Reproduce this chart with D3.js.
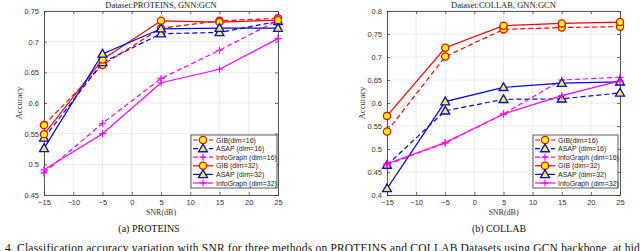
<!DOCTYPE html>
<html>
<head>
<meta charset="utf-8">
<script src="https://cdn.jsdelivr.net/npm/d3@7"></script>
<style>
  body { margin: 0; background: #fff; }
  svg { display: block; }
</style>
</head>
<body>
<div id="chart"></div>
<script>
// DATA

var snr = [-15, -5, 5, 15, 25];
var xTicks = [-15, -10, -5, 0, 5, 10, 15, 20, 25];

var seriesNames = ["GIB(dim=16)", "ASAP (dim=16)", "InfoGraph (dim=16)",
                   "GIB (dim=32)", "ASAP (dim=32)", "InfoGraph (dim=32)"];

// PROTEINS
var proteinsGib16 = [0.564, 0.662, 0.722, 0.734, 0.738];
var proteinsAsap16 = [0.543, 0.666, 0.713, 0.715, 0.733];
var proteinsInfo16 = [0.486, 0.567, 0.640, 0.686, 0.735];
var proteinsGib32 = [0.549, 0.671, 0.734, 0.732, 0.735];
var proteinsAsap32 = [0.526, 0.680, 0.721, 0.722, 0.722];
var proteinsInfo32 = [0.491, 0.550, 0.633, 0.655, 0.705];
var proteinsYTicks = [0.45, 0.5, 0.55, 0.6, 0.65, 0.7, 0.75];

// COLLAB
var collabGib16 = [0.538, 0.701, 0.760, 0.764, 0.766];
var collabAsap16 = [0.465, 0.583, 0.608, 0.609, 0.622];
var collabInfo16 = [0.466, 0.513, 0.576, 0.650, 0.656];
var collabGib32 = [0.572, 0.720, 0.768, 0.773, 0.776];
var collabAsap32 = [0.414, 0.603, 0.634, 0.643, 0.646];
var collabInfo32 = [0.468, 0.514, 0.576, 0.616, 0.648];
var collabYTicks = [0.4, 0.45, 0.5, 0.55, 0.6, 0.65, 0.7, 0.75, 0.8];

// STYLE per series (same order as the names)
var styles = [
  { color: "#ff0000", dash: "5,3", marker: "circle" },
  { color: "#0000ff", dash: "5,3", marker: "triangle" },
  { color: "#ff00ff", dash: "5,3", marker: "plus" },
  { color: "#ff0000", dash: null, marker: "circle" },
  { color: "#0000ff", dash: null, marker: "triangle" },
  { color: "#ff00ff", dash: null, marker: "plus" }
];

var width = 640;
var height = 251;

var svg = d3.select("#chart")
    .append("svg")
    .attr("width", width)
    .attr("height", height);

var serif = "'Liberation Serif', 'DejaVu Serif', serif";
var sans = "'Liberation Sans', Arial, sans-serif";

function drawMarker(g, type, color, cx, cy) {
    if (type == "circle") {
        g.append("circle")
            .attr("cx", cx).attr("cy", cy).attr("r", 3.6)
            .attr("fill", "#ffff00")
            .attr("stroke", color)
            .attr("stroke-width", 1.3);
    } else if (type == "triangle") {
        g.append("path")
            .attr("d", d3.symbol().type(d3.symbolTriangle).size(34)())
            .attr("transform", "translate(" + cx + "," + (cy + 0.6) + ")")
            .attr("fill", "#ffff00")
            .attr("stroke", color)
            .attr("stroke-width", 1.3);
    } else {
        g.append("path")
            .attr("d", "M" + (cx - 3.5) + "," + cy + "H" + (cx + 3.5) +
                       "M" + cx + "," + (cy - 3.5) + "V" + (cy + 3.5))
            .attr("stroke", color)
            .attr("stroke-width", 1.2);
    }
}

function styleAxis(sel) {
    sel.select(".domain").attr("stroke", "#333").attr("stroke-width", 0.8);
    sel.selectAll(".tick line").attr("stroke", "#333").attr("stroke-width", 0.7);
    sel.selectAll(".tick text")
        .style("font-family", sans)
        .style("font-size", "7.5px")
        .attr("fill", "#333");
}

function drawPanel(opt) {

    var x = d3.scaleLinear()
        .domain([-15, 25])
        .range([opt.left, opt.right]);

    var y = d3.scaleLinear()
        .domain(opt.yDomain)
        .range([opt.bottom, opt.top]);

    var g = svg.append("g");

    // grid
    g.selectAll("line.gx")
        .data(xTicks)
        .enter()
        .append("line")
        .attr("x1", function (d) { return x(d); })
        .attr("x2", function (d) { return x(d); })
        .attr("y1", opt.top)
        .attr("y2", opt.bottom)
        .attr("stroke", "#e6e6e6")
        .attr("stroke-width", 0.8);

    g.selectAll("line.gy")
        .data(opt.yTicks)
        .enter()
        .append("line")
        .attr("x1", opt.left)
        .attr("x2", opt.right)
        .attr("y1", function (d) { return y(d); })
        .attr("y2", function (d) { return y(d); })
        .attr("stroke", "#e6e6e6")
        .attr("stroke-width", 0.8);

    // axes, ticks inside like matlab
    g.append("g")
        .attr("transform", "translate(0," + opt.bottom + ")")
        .call(d3.axisBottom(x).tickValues(xTicks).tickSizeInner(-3).tickSizeOuter(0).tickPadding(5))
        .call(styleAxis);

    g.append("g")
        .attr("transform", "translate(" + opt.left + ",0)")
        .call(d3.axisLeft(y).tickValues(opt.yTicks).tickSizeInner(-3).tickSizeOuter(0).tickPadding(5)
            .tickFormat(function (d) { return String(+d.toFixed(2)); }))
        .call(styleAxis);

    g.append("g")
        .attr("transform", "translate(0," + opt.top + ")")
        .call(d3.axisTop(x).tickValues(xTicks).tickSizeInner(-3).tickSizeOuter(0).tickFormat(""))
        .call(styleAxis);

    g.append("g")
        .attr("transform", "translate(" + opt.right + ",0)")
        .call(d3.axisRight(y).tickValues(opt.yTicks).tickSizeInner(-3).tickSizeOuter(0).tickFormat(""))
        .call(styleAxis);

    // title and labels
    g.append("text")
        .attr("x", (opt.left + opt.right) / 2)
        .attr("y", opt.top - 3)
        .attr("text-anchor", "middle")
        .style("font-family", serif)
        .style("font-size", "8.5px")
        .attr("fill", "#222")
        .text(opt.title);

    g.append("text")
        .attr("x", (opt.left + opt.right) / 2)
        .attr("y", opt.bottom + 19.5)
        .attr("text-anchor", "middle")
        .style("font-family", serif)
        .style("font-size", "8px")
        .attr("fill", "#333")
        .text("SNR(dB)");

    g.append("text")
        .attr("transform", "translate(" + (opt.left - 22) + "," + ((opt.top + opt.bottom) / 2) + ") rotate(-90)")
        .attr("text-anchor", "middle")
        .style("font-family", serif)
        .style("font-size", "8.5px")
        .attr("fill", "#333")
        .text("Accuracy");

    g.append("text")
        .attr("x", opt.captionX)
        .attr("y", 232)
        .attr("text-anchor", "middle")
        .style("font-family", serif)
        .style("font-size", "10px")
        .attr("fill", "#111")
        .text(opt.caption);

    // lines + markers
    var line = d3.line()
        .x(function (d, i) { return x(snr[i]); })
        .y(function (d) { return y(d); });

    opt.series.forEach(function (vals, k) {
        var st = styles[k];
        g.append("path")
            .datum(vals)
            .attr("d", line)
            .attr("fill", "none")
            .attr("stroke", st.color)
            .attr("stroke-width", 1.2)
            .attr("stroke-dasharray", st.dash);
        vals.forEach(function (v, i) {
            drawMarker(g, st.marker, st.color, x(snr[i]), y(v));
        });
    });

    // legend
    var lg = g.append("g");
    lg.append("rect")
        .attr("x", opt.legX)
        .attr("y", opt.legY)
        .attr("width", opt.legW)
        .attr("height", 53)
        .attr("fill", "#fff")
        .attr("stroke", "#333")
        .attr("stroke-width", 0.8);

    seriesNames.forEach(function (name, k) {
        var st = styles[k];
        var ly = opt.legY + 5 + k * 8.6;
        lg.append("line")
            .attr("x1", opt.legX + 2)
            .attr("x2", opt.legX + 22)
            .attr("y1", ly)
            .attr("y2", ly)
            .attr("stroke", st.color)
            .attr("stroke-width", 1.2)
            .attr("stroke-dasharray", st.dash);
        drawMarker(lg, st.marker, st.color, opt.legX + 12, ly);
        lg.append("text")
            .attr("x", opt.legX + 25)
            .attr("y", ly + 2.5)
            .style("font-family", sans)
            .style("font-size", "7px")
            .attr("fill", "#222")
            .text(name);
    });
}

drawPanel({
    left: 44, right: 278, top: 11, bottom: 195,
    yDomain: [0.45, 0.75],
    yTicks: proteinsYTicks,
    title: "Dataset:PROTEINS, GNN:GCN",
    caption: "(a) PROTEINS",
    captionX: 149,
    series: [proteinsGib16, proteinsAsap16, proteinsInfo16, proteinsGib32, proteinsAsap32, proteinsInfo32],
    legX: 191, legY: 135, legW: 86
});

drawPanel({
    left: 387, right: 620, top: 11, bottom: 195,
    yDomain: [0.4, 0.8],
    yTicks: collabYTicks,
    title: "Dataset:COLLAB, GNN:GCN",
    caption: "(b) COLLAB",
    captionX: 499,
    series: [collabGib16, collabAsap16, collabInfo16, collabGib32, collabAsap32, collabInfo32],
    legX: 533, legY: 135, legW: 85
});

// figure caption, cut off by the frame on both sides
svg.append("text")
    .attr("x", 2)
    .attr("y", 252)
    .attr("text-anchor", "end")
    .style("font-family", serif)
    .style("font-size", "11.5px")
    .attr("fill", "#111")
    .text("Fig.");

svg.append("text")
    .attr("x", 5)
    .attr("y", 252)
    .attr("textLength", 652)
    .attr("lengthAdjust", "spacing")
    .style("font-family", serif)
    .style("font-size", "11.5px")
    .attr("fill", "#111")
    .text("4. Classification accuracy variation with SNR for three methods on PROTEINS and COLLAB Datasets using GCN backbone, at hidden");
</script>
</body>
</html>
